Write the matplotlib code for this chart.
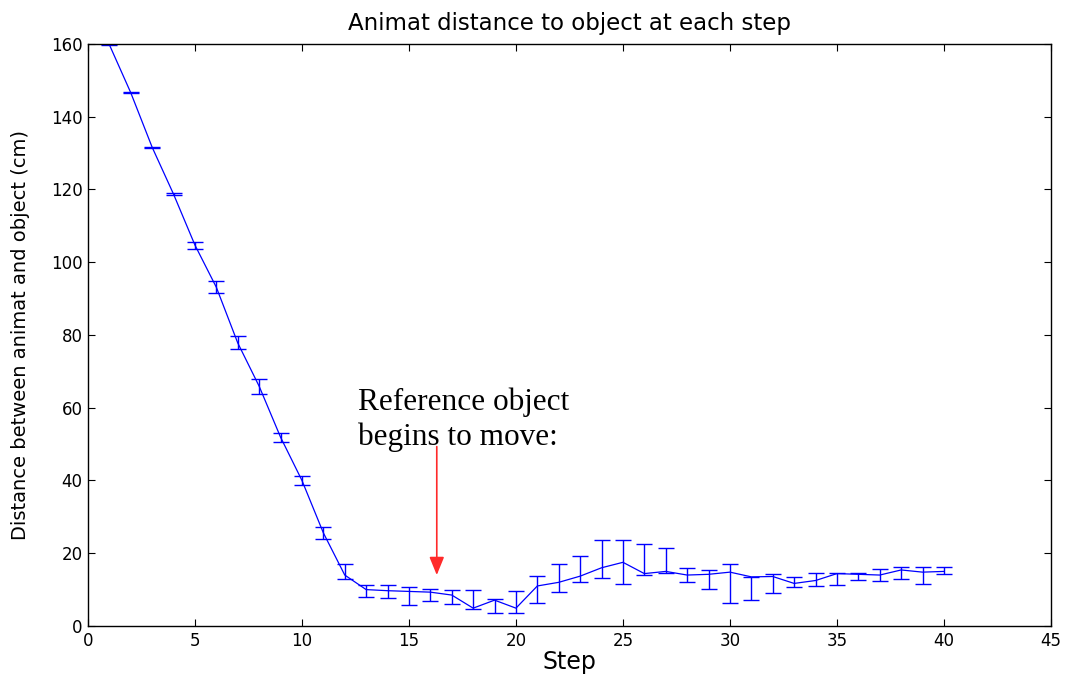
import matplotlib
matplotlib.use("Agg")
import matplotlib.pyplot as plt
import numpy as np

# Mean distance per step with lower/upper bounds of the error bars (cm)
steps = list(range(1, 41))
mean_dist = [159.8, 146.6, 131.6, 118.7, 104.7, 93.1, 77.8, 65.9, 51.9, 40.0,
             25.6, 14.0, 10.0, 9.7, 9.5, 9.3, 8.5, 4.9, 7.1, 4.9,
             11.0, 12.0, 13.7, 16.0, 17.5, 14.4, 15.0, 14.0, 14.2, 14.8,
             13.5, 13.6, 11.7, 12.5, 14.4, 14.2, 14.0, 15.4, 14.8, 15.0]
lower_bound = [159.6, 146.4, 131.4, 118.5, 103.7, 91.5, 76.2, 63.7, 50.7, 38.8,
               24.0, 13.0, 8.0, 7.6, 5.7, 6.8, 6.0, 4.6, 3.6, 3.7,
               6.3, 9.3, 12.1, 13.3, 11.6, 14.1, 14.5, 12.0, 10.3, 6.2,
               7.2, 9.0, 10.7, 11.0, 11.4, 12.7, 12.4, 13.0, 11.5, 14.3]
upper_bound = [160.0, 146.8, 131.8, 118.9, 105.5, 94.8, 79.8, 68.0, 53.1, 41.2,
               27.3, 17.0, 11.3, 11.3, 10.8, 10.2, 9.9, 9.9, 7.3, 9.5,
               13.7, 16.9, 19.1, 23.6, 23.6, 22.5, 21.4, 16.0, 15.4, 16.9,
               13.5, 14.3, 13.6, 14.6, 14.5, 14.7, 15.6, 16.1, 16.1, 16.1]

x_ticks = list(range(0, 50, 5))
y_ticks = list(range(0, 180, 20))

mean_arr = np.array(mean_dist)
yerr = [mean_arr - np.array(lower_bound), np.array(upper_bound) - mean_arr]

plt.rcParams["font.family"] = ["DejaVu Sans"]

fig = plt.figure(figsize=(10.7, 6.76), dpi=100)
ax = fig.add_axes([0.0822, 0.074, 0.9, 0.861])

ax.errorbar(steps, mean_dist, yerr=yerr, color="#0000ff", ecolor="#0000ff",
            linewidth=0.9, elinewidth=1.0, capsize=5.8, capthick=1.0)

ax.set_xlim(0, 45)
ax.set_ylim(0, 160)
ax.set_xticks(x_ticks)
ax.set_yticks(y_ticks)
ax.tick_params(direction="in", top=True, right=True, length=5, width=0.8,
               labelsize=12, pad=4)
for s in ax.spines.values():
    s.set_linewidth(1.0)

ax.set_title("Animat distance to object at each step", fontsize=16.5, pad=10)
ax.set_xlabel("Step", fontsize=17, labelpad=0)
ax.set_ylabel("Distance between animat and object (cm)", fontsize=14,
              labelpad=15)

ax.text(12.6, 47.8, "Reference object\nbegins to move:",
        family=["Liberation Serif", "DejaVu Serif"], fontsize=22.5,
        linespacing=1.25, ha="left", va="bottom")
ax.annotate("", xy=(16.3, 14.0), xytext=(16.3, 49.3),
            arrowprops=dict(arrowstyle="-|>,head_length=1.1,head_width=0.45",
                            color="#ff2a2a", lw=1.2, shrinkA=0, shrinkB=0))

fig.savefig("out.png", dpi=100)
